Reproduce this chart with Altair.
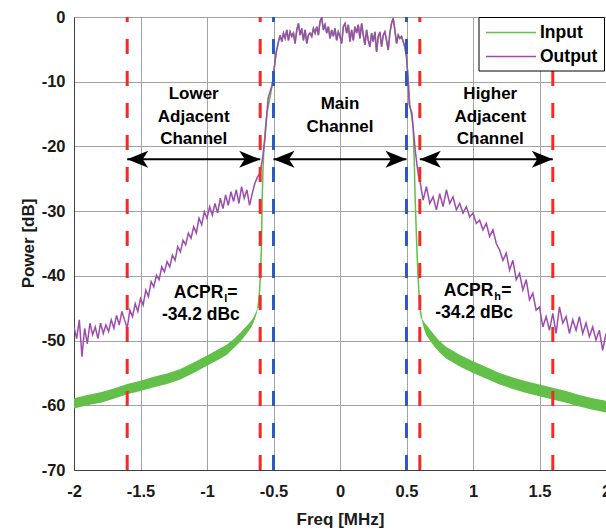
import altair as alt
import pandas as pd

# ---------------- data ----------------
# Output spectrum (purple), lower adjacent band
out_left_freq = [-2.00, -1.98, -1.96, -1.94, -1.92, -1.90, -1.88, -1.86, -1.84, -1.82,
                 -1.80, -1.78, -1.76, -1.74, -1.72, -1.70, -1.68, -1.66, -1.64, -1.62,
                 -1.60, -1.58, -1.56, -1.54, -1.52, -1.50, -1.48, -1.46, -1.44, -1.42,
                 -1.40, -1.38, -1.36, -1.34, -1.32, -1.30, -1.28, -1.26, -1.24, -1.22,
                 -1.20, -1.18, -1.16, -1.14, -1.12, -1.10, -1.08, -1.06, -1.04, -1.02,
                 -1.00, -0.98, -0.96, -0.94, -0.92, -0.90, -0.88, -0.86, -0.84, -0.82,
                 -0.80, -0.78, -0.76, -0.74, -0.72, -0.70, -0.68, -0.66, -0.64, -0.62]
out_left_pow = [-47.9, -49.7, -46.8, -52.5, -48.1, -50.5, -47.3, -49.1, -47.9, -49.7,
                -47.3, -48.9, -47.6, -48.6, -46.8, -48.1, -46.1, -47.6, -45.5, -46.8,
                -48.1, -45.3, -46.3, -44.3, -45.5, -43.5, -44.5, -42.2, -43.2, -40.9,
                -41.7, -39.9, -40.6, -38.6, -39.4, -37.8, -38.6, -36.8, -37.6, -35.5,
                -36.3, -34.5, -35.2, -33.4, -34.2, -32.4, -33.4, -31.1, -32.1, -30.1,
                -31.1, -29.3, -30.6, -28.8, -30.3, -28.0, -29.6, -27.5, -29.1, -27.0,
                -28.5, -26.7, -28.8, -26.2, -28.0, -26.7, -29.1, -27.3, -25.7, -24.7]
out_ltrans_freq = [-0.60, -0.58, -0.565, -0.55, -0.54, -0.525, -0.51, -0.495, -0.48]
out_ltrans_pow = [-24.0, -21.5, -19.0, -15.0, -12.5, -11.5, -10.5, -8.0, -5.5]

# Main channel (input and output overlap)
main_freq = [-0.4625, -0.45, -0.4375, -0.425, -0.4125, -0.40, -0.3875, -0.375, -0.3625, -0.35,
             -0.3375, -0.325, -0.3125, -0.30, -0.2875, -0.275, -0.2625, -0.25, -0.2375, -0.225,
             -0.2125, -0.20, -0.1875, -0.175, -0.1625, -0.15, -0.1375, -0.125, -0.1125, -0.10,
             -0.0875, -0.075, -0.0625, -0.05, -0.0375, -0.025, -0.0125, 0.0, 0.0125, 0.025,
             0.0375, 0.05, 0.0625, 0.075, 0.0875, 0.10, 0.1125, 0.125, 0.1375, 0.15,
             0.1625, 0.175, 0.1875, 0.20, 0.2125, 0.225, 0.2375, 0.25, 0.2625, 0.275,
             0.2875, 0.30, 0.3125, 0.325, 0.3375, 0.35, 0.3625, 0.375, 0.3875, 0.40,
             0.4125, 0.425, 0.4375, 0.45, 0.4625, 0.475, 0.4875, 0.50, 0.5125]
main_pow = [-3.8, -2.8, -3.8, -2.5, -3.3, -2.0, -3.6, -2.3, -3.0, -2.5,
            -4.1, -2.0, -1.0, -2.8, -1.75, -3.6, -2.0, -4.1, -2.8, -2.5,
            -3.0, -1.75, -2.5, -1.5, -2.8, -0.7, -0.1, -2.0, -1.2, -2.5,
            -1.5, -3.3, -2.0, -3.0, -1.75, -3.6, -2.3, -3.0, -4.1, -1.5,
            -1.0, -2.5, -1.2, -3.8, -2.0, -3.6, -1.5, -2.5, -1.2, -3.3,
            -1.0, -2.8, -4.3, -2.0, -3.6, -4.6, -2.5, -3.8, -2.3, -5.4,
            -3.0, -2.3, -4.6, -2.8, -2.3, -3.6, -5.1, -2.5, -1.0, -0.2,
            -2.0, -4.1, -2.8, -3.3, -3.0, -3.8, -4.6, -6.1, -9.7]

# Output spectrum, upper adjacent band
out_rtrans_freq = [0.52, 0.53, 0.54, 0.55, 0.565, 0.58, 0.59]
out_rtrans_pow = [-13.5, -14.2, -14.8, -17.0, -20.5, -23.0, -24.5]
out_right_freq = [0.6, 0.625, 0.65, 0.675, 0.7, 0.725, 0.75, 0.775, 0.8, 0.825,
                  0.85, 0.875, 0.9, 0.925, 0.95, 0.975, 1.0, 1.025, 1.05, 1.075,
                  1.1, 1.125, 1.15, 1.175, 1.2, 1.225, 1.25, 1.275, 1.3, 1.325,
                  1.35, 1.375, 1.4, 1.425, 1.45, 1.475, 1.5, 1.525, 1.55, 1.575,
                  1.6, 1.625, 1.65, 1.675, 1.7, 1.725, 1.75, 1.775, 1.8, 1.825,
                  1.85, 1.875, 1.9, 1.925, 1.95, 1.975, 2.0]
out_right_pow = [-25.2, -28.3, -26.2, -28.8, -27.8, -29.8, -27.3, -29.3, -26.7, -28.8,
                 -27.8, -29.8, -28.8, -30.3, -29.3, -30.9, -30.3, -31.9, -31.4, -32.9,
                 -31.9, -33.9, -32.9, -35.0, -36.0, -37.6, -36.5, -39.1, -37.6, -40.6,
                 -39.6, -42.2, -40.6, -43.7, -42.7, -45.3, -44.8, -47.9, -46.3, -48.4,
                 -45.8, -48.9, -44.8, -47.3, -46.3, -48.9, -46.8, -48.4, -46.3, -48.9,
                 -47.3, -49.4, -47.9, -49.9, -48.4, -51.5, -48.9]

# Input spectrum (green): channel edges
in_ltrans_freq = [-0.617, -0.607, -0.598, -0.59, -0.585, -0.578, -0.57, -0.56, -0.55, -0.54,
                  -0.525, -0.51, -0.495, -0.48]
in_ltrans_pow = [-45.0, -43.0, -40.0, -35.0, -28.0, -23.0, -19.5, -17.0, -15.0, -13.8,
                 -12.3, -10.5, -8.0, -5.5]
in_rtrans_freq = [0.525, 0.54, 0.55, 0.558, 0.565, 0.575, 0.585, 0.595, 0.605, 0.614]
in_rtrans_pow = [-13.5, -15.5, -17.0, -22.0, -28.0, -34.0, -39.5, -43.0, -45.5, -46.6]

# Input spectrum (green) noisy tails: upper / lower edge of the band
in_left_freq = [-2.0, -1.9, -1.8, -1.7, -1.6, -1.5, -1.4, -1.3, -1.2, -1.1,
                -1.0, -0.9, -0.85, -0.8, -0.75, -0.7, -0.67, -0.65, -0.63, -0.617]
in_left_hi = [-58.9, -58.4, -58.0, -57.4, -56.7, -56.2, -55.6, -55.1, -54.4, -53.4,
              -52.3, -51.2, -50.6, -49.8, -48.8, -47.7, -47.0, -46.4, -45.5, -44.9]
in_left_lo = [-60.5, -60.0, -59.6, -59.0, -58.3, -57.8, -57.2, -56.7, -56.0, -55.0,
              -53.9, -52.8, -52.2, -51.2, -50.2, -48.9, -48.0, -47.2, -46.1, -45.1]
in_right_freq = [0.614, 0.63, 0.65, 0.7, 0.75, 0.8, 0.9, 1.0, 1.1, 1.2,
                 1.3, 1.4, 1.5, 1.6, 1.7, 1.8, 1.9, 2.0]
in_right_hi = [-46.5, -47.1, -47.6, -48.9, -50.1, -51.0, -52.2, -53.2, -54.1, -55.0,
               -55.7, -56.3, -56.8, -57.3, -57.8, -58.4, -58.9, -59.3]
in_right_lo = [-46.7, -48.1, -49.2, -50.7, -51.9, -52.8, -54.0, -55.0, -55.9, -56.8,
               -57.5, -58.1, -58.6, -59.1, -59.6, -60.2, -60.7, -61.1]

# Channel boundaries
red_edges = [-1.6, -0.6, 0.6, 1.6]
blue_edges = [-0.5, 0.5]
arrow_start = [-1.6, -0.5, 0.6]
arrow_end = [-0.6, 0.5, 1.6]
arrow_level = -22

label_freq = [-1.1, -1.1, -1.1, 0.0, 0.0, 1.13, 1.13, 1.13]
label_pow = [-11.9, -15.4, -18.85, -13.5, -17.0, -11.9, -15.4, -18.85]
label_text = ["Lower", "Adjacent", "Channel", "Main", "Channel", "Higher", "Adjacent", "Channel"]

acpr_value_freq = [-1.046, 1.009]
acpr_value_pow = [-46.05, -45.8]
acpr_value_text = ["-34.2 dBc", "-34.2 dBc"]
acpr_head_freq = [-0.877, 1.153]
acpr_head_pow = [-42.7, -42.4]
acpr_sub = ["l", "h"]

x_ticks = [-2, -1.5, -1, -0.5, 0, 0.5, 1, 1.5, 2]
y_ticks = [-70, -60, -50, -40, -30, -20, -10, 0]

# ---------------- styling ----------------
GREEN = "#62bf48"
PURPLE = "#9d4cae"
RED = "#f42a2a"
BLUE = "#2a5bc4"
FONT = "Liberation Sans"
GRID = "#a3a3a3"
FRAME = "#404040"

W, H = 532, 453

xscale = alt.Scale(domain=[-2, 2], nice=False, zero=False)
yscale = alt.Scale(domain=[-70, 0], nice=False, zero=False)
xaxis = alt.Axis(values=x_ticks, labelExpr="'' + datum.value", title="Freq [MHz]",
                 grid=True, gridColor=GRID, gridWidth=1, ticks=False,
                 domainColor=FRAME, labelFont=FONT, labelFontSize=16.5, labelFontWeight="bold",
                 labelColor="#1a1a1a", labelPadding=13, labelOverlap=False, labelFlush=False,
                 titleFont=FONT, titleFontSize=17, titleFontWeight="bold", titleColor="#1a1a1a",
                 titleY=49, titleBaseline="middle")
yaxis = alt.Axis(values=y_ticks, labelExpr="'' + datum.value", title="Power [dB]",
                 grid=True, gridColor=GRID, gridWidth=1, ticks=False,
                 domainColor=FRAME, labelFont=FONT, labelFontSize=16.5, labelFontWeight="bold",
                 labelColor="#1a1a1a", labelPadding=9, labelOverlap=False, labelFlush=False,
                 titleFont=FONT, titleFontSize=17, titleFontWeight="bold", titleColor="#1a1a1a",
                 titleX=-46, titleY=226, titleAngle=-90, titleAlign="center",
                 titleBaseline="middle")


def X(field="freq"):
    return alt.X(field, type="quantitative", scale=xscale, axis=xaxis)


def Y(field="power"):
    return alt.Y(field, type="quantitative", scale=yscale, axis=yaxis)


# ---------------- tables ----------------
purple_df = pd.DataFrame({
    "freq": out_left_freq + out_ltrans_freq + main_freq + out_rtrans_freq + out_right_freq,
    "power": out_left_pow + out_ltrans_pow + main_pow + out_rtrans_pow + out_right_pow,
})
green_df = pd.DataFrame({
    "freq": in_ltrans_freq + main_freq + in_rtrans_freq,
    "power": in_ltrans_pow + main_pow + in_rtrans_pow,
})
band_df = pd.DataFrame({
    "freq": in_left_freq + in_right_freq,
    "power": in_left_lo + in_right_lo,
    "hi": in_left_hi + in_right_hi,
    "side": ["L"] * len(in_left_freq) + ["R"] * len(in_right_freq),
})
red_df = pd.DataFrame({"freq": red_edges, "power": [-70] * len(red_edges), "top": [0] * len(red_edges)})
blue_df = pd.DataFrame({"freq": blue_edges, "power": [-70] * len(blue_edges), "top": [0] * len(blue_edges)})
arrow_df = pd.DataFrame({"freq": arrow_start, "end": arrow_end, "power": [arrow_level] * 3})
tipL_df = pd.DataFrame({"freq": arrow_start, "power": [arrow_level] * 3})
tipR_df = pd.DataFrame({"freq": arrow_end, "power": [arrow_level] * 3})
label_df = pd.DataFrame({"freq": label_freq, "power": label_pow, "text": label_text})
acpr_val_df = pd.DataFrame({"freq": acpr_value_freq, "power": acpr_value_pow, "text": acpr_value_text})
acpr_head_df = pd.DataFrame({"freq": acpr_head_freq, "power": acpr_head_pow, "sub": acpr_sub})
dummy = pd.DataFrame({"freq": [0]})

# ---------------- layers ----------------
band = alt.Chart(band_df).mark_area(color=GREEN, opacity=1, clip=True).encode(
    x=X(), y=Y(), y2="hi", detail="side")
green_line = alt.Chart(green_df).mark_line(color=GREEN, strokeWidth=1.5, clip=True).encode(
    x=X(), y=Y())
purple_line = alt.Chart(purple_df).mark_line(color=PURPLE, strokeWidth=1.5, clip=True).encode(
    x=X(), y=Y())
red_rules = alt.Chart(red_df).mark_rule(color=RED, strokeWidth=3, strokeDash=[15, 17]).encode(
    x=X(), y=Y(), y2="top")
blue_rules = alt.Chart(blue_df).mark_rule(color=BLUE, strokeWidth=3, strokeDash=[15, 17]).encode(
    x=X(), y=Y(), y2="top")
shafts = alt.Chart(arrow_df).mark_rule(color="black", strokeWidth=2).encode(
    x=X(), x2="end", y=Y())
left_head = "M0,0 L2.1,-0.85 L1.55,0 L2.1,0.85 Z"
right_head = "M0,0 L-2.1,-0.85 L-1.55,0 L-2.1,0.85 Z"
tipsL = alt.Chart(tipL_df).mark_point(shape=left_head, size=400, filled=True, color="black",
                                      opacity=1).encode(x=X(), y=Y())
tipsR = alt.Chart(tipR_df).mark_point(shape=right_head, size=400, filled=True, color="black",
                                      opacity=1).encode(x=X(), y=Y())

labels = alt.Chart(label_df).mark_text(font=FONT, fontSize=17, fontWeight="bold", color="black",
                                       align="center", baseline="middle").encode(
    x=X(), y=Y(), text="text")
acpr_vals = alt.Chart(acpr_val_df).mark_text(font=FONT, fontSize=17.5, fontWeight="bold",
                                             color="black", align="center",
                                             baseline="middle").encode(x=X(), y=Y(), text="text")
acpr_main = alt.Chart(acpr_head_df).mark_text(font=FONT, fontSize=17.5, fontWeight="bold",
                                              color="black", align="right",
                                              baseline="middle").encode(
    x=X(), y=Y(), text=alt.value("ACPR"))
acpr_subs = alt.Chart(acpr_head_df).mark_text(font=FONT, fontSize=11, fontWeight="bold",
                                              color="black", align="left", baseline="middle",
                                              dx=1, dy=6).encode(x=X(), y=Y(), text="sub")
acpr_eq_l = alt.Chart(acpr_head_df.iloc[[0]]).mark_text(font=FONT, fontSize=17.5, fontWeight="bold",
                                                        color="black", align="left",
                                                        baseline="middle", dx=4).encode(
    x=X(), y=Y(), text=alt.value("="))
acpr_eq_h = alt.Chart(acpr_head_df.iloc[[1]]).mark_text(font=FONT, fontSize=17.5, fontWeight="bold",
                                                        color="black", align="left",
                                                        baseline="middle", dx=8).encode(
    x=X(), y=Y(), text=alt.value("="))

# legend box (top-right, inside the axes)
leg_box = alt.Chart(dummy).mark_rect(fill="white", stroke="black", strokeWidth=1).encode(
    x=alt.value(405), x2=alt.value(530.5), y=alt.value(0.5), y2=alt.value(54))
leg_in = alt.Chart(dummy).mark_rule(color=GREEN, strokeWidth=1.5).encode(
    x=alt.value(412), x2=alt.value(462), y=alt.value(15.5))
leg_out = alt.Chart(dummy).mark_rule(color=PURPLE, strokeWidth=1.5).encode(
    x=alt.value(412), x2=alt.value(462), y=alt.value(39.5))
leg_t1 = alt.Chart(dummy).mark_text(font=FONT, fontSize=17.5, fontWeight="bold", color="black",
                                    align="left", baseline="middle").encode(
    x=alt.value(466), y=alt.value(16), text=alt.value("Input"))
leg_t2 = alt.Chart(dummy).mark_text(font=FONT, fontSize=17.5, fontWeight="bold", color="black",
                                    align="left", baseline="middle").encode(
    x=alt.value(466), y=alt.value(40), text=alt.value("Output"))

chart = alt.layer(
    band, green_line, purple_line, red_rules, blue_rules, shafts, tipsL, tipsR,
    labels, acpr_vals, acpr_main, acpr_subs, acpr_eq_l, acpr_eq_h,
    leg_box, leg_in, leg_out, leg_t1, leg_t2,
).properties(
    width=W, height=H,
    autosize=alt.AutoSizeParams(type="none"),
    padding={"left": 74, "top": 17, "right": 0, "bottom": 61},
    background="white",
).configure_view(stroke=FRAME, strokeWidth=1)

chart.save("out.html", embed_options={"renderer": "svg", "actions": False})
